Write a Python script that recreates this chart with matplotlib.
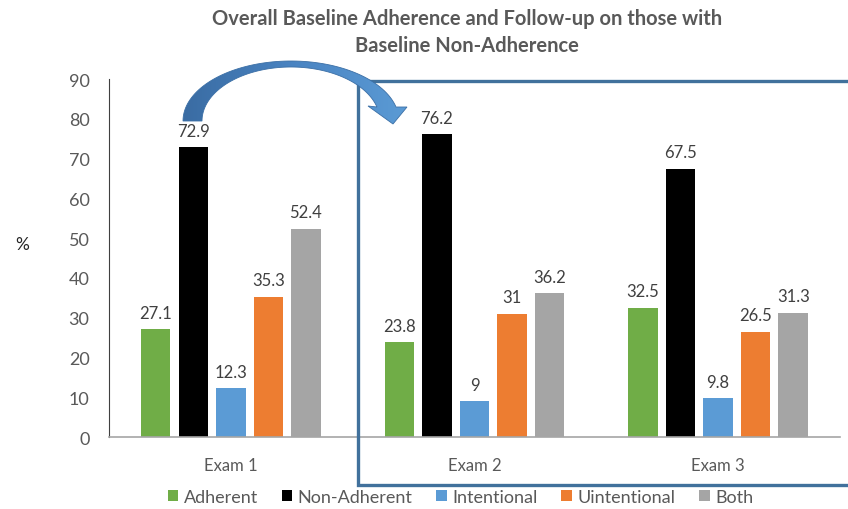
import matplotlib.pyplot as plt
import numpy as np
from matplotlib.colors import LinearSegmentedColormap
from matplotlib.patches import Polygon, Rectangle

# -----------------------
# DATA
# -----------------------
exams = ["Exam 1", "Exam 2", "Exam 3"]
series = ["Adherent", "Non-Adherent", "Intentional", "Uintentional", "Both"]
adherent = [27.1, 23.8, 32.5]
non_adherent = [72.9, 76.2, 67.5]
intentional = [12.3, 9, 9.8]
unintentional = [35.3, 31, 26.5]
both = [52.4, 36.2, 31.3]
yticks = [0, 10, 20, 30, 40, 50, 60, 70, 80, 90]

values = [adherent, non_adherent, intentional, unintentional, both]
colors = ["#70ad47", "#000000", "#5b9bd5", "#ed7d31", "#a5a5a5"]

plt.rcParams['font.family'] = ['Lato', 'DejaVu Sans']
text_gray = "#595959"

W, H = 848, 510

# -----------------------
# FIGURE
# -----------------------
fig = plt.figure(figsize=(8.48, 5.10), dpi=100)
ax = fig.add_axes([0.1285, 0.141, 0.862, 0.702])

x = np.arange(len(exams))
width = 0.121
step = 0.154
for i, (name, vals, col) in enumerate(zip(series, values, colors)):
    pos = x + (i - 2) * step
    bars = ax.bar(pos, vals, width, color=col, label=name, zorder=2)
    for b, v in zip(bars, vals):
        ax.annotate(f"{v:g}", (b.get_x() + b.get_width() / 2, v),
                    xytext=(0, 6), textcoords="offset points",
                    ha="center", va="bottom", fontsize=12, color="#404040")

ax.set_xlim(-0.5, 2.5)
ax.set_ylim(0, 90)
ax.set_yticks(yticks)
ax.set_xticks(x)
ax.set_xticklabels(exams)
ax.tick_params(axis="both", length=0, labelsize=13, colors=text_gray)
ax.tick_params(axis="x", pad=14, labelsize=12)
ax.tick_params(axis="y", pad=14)

for s in ["top", "right"]:
    ax.spines[s].set_visible(False)
ax.spines["left"].set_color("#404040")
ax.spines["bottom"].set_color("#a6a6a6")
ax.spines["bottom"].set_linewidth(1.2)

fig.text(0.026, 0.52, "%", fontsize=12.5, color="#262626", ha="center", va="center")

# -----------------------
# TITLE
# -----------------------
fig.text(0.551, 0.963, "Overall Baseline Adherence and Follow-up on those with",
         ha="center", va="center", fontsize=14.5, fontweight="bold", color=text_gray)
fig.text(0.551, 0.91, "Baseline Non-Adherence",
         ha="center", va="center", fontsize=14.5, fontweight="bold", color=text_gray)

# -----------------------
# OVERLAY IN PIXEL COORDS (origin top-left) FOR BOX + ARROW
# -----------------------
ov = fig.add_axes([0, 0, 1, 1], facecolor="none")
ov.set_xlim(0, W)
ov.set_ylim(H, 0)
ov.axis("off")

box = Rectangle((358, 82), 600, 404, fill=False,
                edgecolor="#41719c", linewidth=2.4, zorder=5)
ov.add_patch(box)

# curved arrow: band between two half-ellipses, triangle head at the right end
cx, cy = 291, 122
t_out = np.linspace(np.pi, np.arcsin(14 / 60), 80)
t_in = np.linspace(np.arcsin(14 / 54), np.pi, 80)
outer = np.column_stack([cx + 108 * np.cos(t_out), cy - 60 * np.sin(t_out)])
inner = np.column_stack([cx + 89 * np.cos(t_in), cy - 54 * np.sin(t_in)])
head = np.array([[407, 108], [393, 125], [368, 107]])
pts = np.vstack([outer, head, inner])

arrow = Polygon(pts, closed=True, facecolor="none", edgecolor="#3b6fa6",
                linewidth=0.6, zorder=7)
ov.add_patch(arrow)
cmap = LinearSegmentedColormap.from_list("arr", ["#3a6ca3", "#4a84c2", "#5b9bd5"])
grad = ov.imshow(np.linspace(0, 1, 256)[None, :], cmap=cmap, aspect="auto",
                 extent=(183, 408, 125, 60), zorder=6, interpolation="bilinear")
grad.set_clip_path(arrow)
ov.set_xlim(0, W)
ov.set_ylim(H, 0)

# -----------------------
# LEGEND
# -----------------------
fig.legend(handles=ax.containers, labels=series, loc="center",
           bbox_to_anchor=(0.543, 0.024), ncol=5, frameon=False,
           fontsize=13, handlelength=0.6, handleheight=0.6, handletextpad=0.3,
           columnspacing=1.3, labelcolor=text_gray)

fig.savefig("out.png", dpi=100)
